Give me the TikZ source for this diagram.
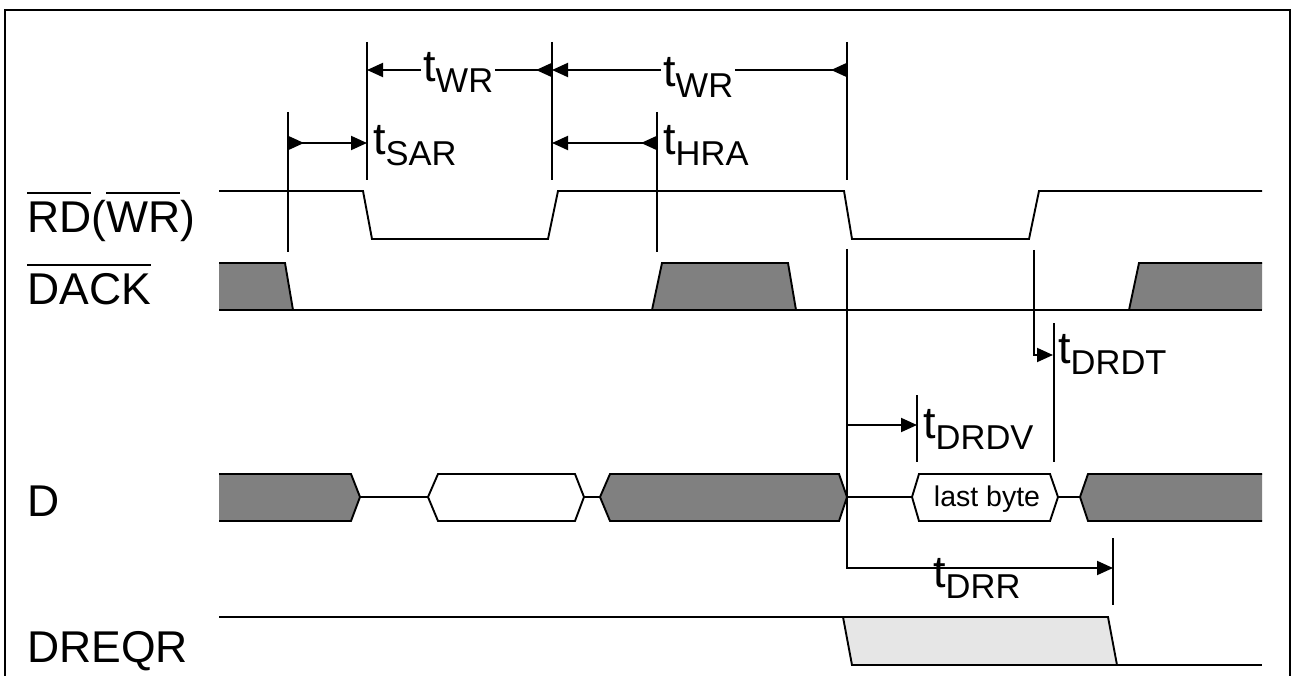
\documentclass[tikz,border=0pt]{standalone}
\usepackage{fontspec}
\setmainfont{Liberation Sans}
\usetikzlibrary{arrows.meta}
\definecolor{darkfill}{RGB}{128,128,128}
\definecolor{lightfill}{RGB}{230,230,230}
\newcommand\ovl[1]{\setbox0=\hbox{#1}\rlap{\rule[0.87em]{\wd0}{2pt}}\box0}
\newcommand\tlab[1]{{\fontsize{45}{45}\selectfont t}\raisebox{-11pt}{\fontsize{34.5}{34.5}\selectfont #1}}
\begin{document}
\begin{tikzpicture}[x=1pt,y=-1pt,
  wave/.style={line width=1.9pt, line join=miter},
  dim/.style={line width=1.9pt},
  lbl/.style={anchor=base west, inner sep=0pt, font=\fontsize{44.5}{44.5}\selectfont},
  tl/.style={anchor=base west, inner xsep=2pt, inner ysep=0pt},
  both/.style={dim, {Triangle[reversed,length=16pt,width=14pt]}-{Triangle[length=16pt,width=14pt]}},
  one/.style={dim, -{Triangle[length=16pt,width=14pt]}},
  rev/.style={dim, {Triangle[reversed,length=16pt,width=14pt]}-},
  dark/.style={fill=darkfill},
  light/.style={fill=lightfill}]
\clip (0,0) rectangle (1295,676);
\draw[line width=2.2pt] (5,10) rectangle (1290,720);

% signal labels
\node[lbl] (rdlab) at (27,233) {\ovl{RD}(\ovl{WR})};
\node[lbl] (dacklab) at (27,305) {\ovl{DACK}};
\node[lbl] (dlab) at (27,516) {D};
\node[lbl] (dreqrlab) at (27,662) {DREQR};

% RD(WR)
\draw[wave] (219,191) -- (363,191) -- (372,239) -- (548,239) -- (558,191) -- (844,191)
  -- (852,239) -- (1029,239) -- (1039,191) -- (1262,191);

% DACK
\fill[dark] (219,263) -- (285,263) -- (293,310) -- (219,310) -- cycle;
\fill[dark] (652,310) -- (662,263) -- (788,263) -- (796,310) -- cycle;
\fill[dark] (1129,310) -- (1139,263) -- (1262,263) -- (1262,310) -- cycle;
\draw[wave] (219,263) -- (285,263) -- (293,310);
\draw[wave] (652,310) -- (662,263) -- (788,263) -- (796,310);
\draw[wave] (1129,310) -- (1139,263) -- (1262,263);
\draw[wave] (219,310) -- (1262,310);

% D
\fill[dark] (219,474) -- (351,474) -- (360,497) -- (351,521) -- (219,521) -- cycle;
\draw[wave] (219,474) -- (351,474) -- (360,497) -- (351,521) -- (219,521);
\draw[wave] (360,497) -- (428,497);
\draw[wave] (428,497) -- (438,474) -- (575,474) -- (584,497) -- (575,521) -- (438,521) -- cycle;
\draw[wave] (584,497) -- (600,497);
\draw[wave, dark] (600,497) -- (610,474) -- (839,474) -- (847,497) -- (839,521) -- (610,521) -- cycle;
\draw[wave] (847,497) -- (912,497);
\draw[wave] (912,497) -- (919,474) -- (1050,474) -- (1058,497) -- (1050,521) -- (919,521) -- cycle;
\node[anchor=base, inner sep=0pt, font=\fontsize{28.5}{28.5}\selectfont] (lastbyte) at (987,506) {last byte};
\draw[wave] (1058,497) -- (1080,497);
\fill[dark] (1262,474) -- (1088,474) -- (1080,497) -- (1088,521) -- (1262,521) -- cycle;
\draw[wave] (1262,474) -- (1088,474) -- (1080,497) -- (1088,521) -- (1262,521);

% DREQR
\draw[wave, light] (843,617) -- (852,665) -- (1117,665) -- (1108,617) -- cycle;
\draw[wave] (219,617) -- (843,617);
\draw[wave] (1117,665) -- (1262,665);

% reference lines
\coordinate (vA1) at (288,112); \coordinate (vA2) at (288,252);
\coordinate (vB1) at (367,42);  \coordinate (vB2) at (367,180);
\coordinate (vC1) at (552,42);  \coordinate (vC2) at (552,180);
\coordinate (vD1) at (657,112); \coordinate (vD2) at (657,252);
\coordinate (vE1) at (847,42);  \coordinate (vE2) at (847,180);
\coordinate (vE3) at (847,249); \coordinate (vE4) at (847,568);
\coordinate (vF1) at (917,395); \coordinate (vF2) at (917,462);
\coordinate (vG1) at (1034,250); \coordinate (vG2) at (1034,355);
\coordinate (vH1) at (1054,323); \coordinate (vH2) at (1054,462);
\coordinate (vI1) at (1113,538); \coordinate (vI2) at (1113,605);
\foreach \a/\b in {vA1/vA2,vB1/vB2,vC1/vC2,vD1/vD2,vE1/vE2,vF1/vF2,vH1/vH2,vI1/vI2}
  \draw[dim] (\a) -- (\b);

% t_SAR
\draw[both] (vA1 |- 0,143) -- (vB1 |- 0,143);
\node[tl, inner xsep=0pt] (tsar) at (373,155) {\tlab{SAR}};
% t_HRA
\draw[both] (vD1 |- 0,143) -- (vC1 |- 0,143);
\node[tl, inner xsep=0pt] (thra) at (663,155) {\tlab{HRA}};
% t_WR (first)
\node[tl] (twr1) at (421,82) {\tlab{WR}\hspace{7pt}};
\draw[rev] (vC1 |- 0,70) -- (twr1.east |- 0,70);
\draw[one] (twr1.west |- 0,70) -- (vB1 |- 0,70);
% t_WR (second)
\node[tl] (twr2) at (661,87) {\tlab{WR}\hspace{5pt}};
\draw[rev] (vE1 |- 0,70) -- (twr2.east |- 0,70);
\draw[one] (twr2.west |- 0,70) -- (vC1 |- 0,70);

% t_DRDT
\draw[one] (vG1) |- (1053,355);
\node[tl, inner xsep=0pt] (tdrdt) at (1058,363) {\tlab{DRDT}};
% t_DRDV and t_DRR
\draw[one] (vE3) |- (vI1 |- vE4);
\draw[one] (vE1 |- 0,425) -- (vF1 |- 0,425);
\node[tl, inner xsep=0pt] (tdrdv) at (923,438) {\tlab{DRDV}};
\node[tl, inner xsep=0pt] (tdrr) at (933,587) {\tlab{DRR}};
\end{tikzpicture}
\end{document}
